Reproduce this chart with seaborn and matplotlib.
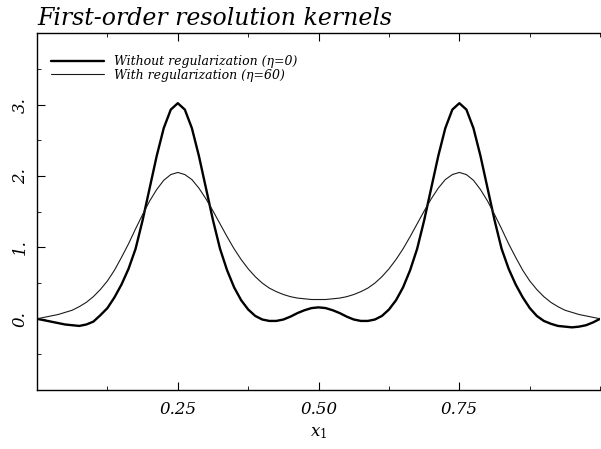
import numpy as np
import pandas as pd
import matplotlib
matplotlib.use("Agg")
import matplotlib.pyplot as plt
import seaborn as sns
from matplotlib.ticker import MultipleLocator, FixedLocator

# ---- data ----
x_vals = np.round(np.arange(81) * 0.0125, 4)

no_reg = [0.00, -0.02, -0.04, -0.06, -0.08, -0.09, -0.10, -0.08, -0.04, 0.05,
          0.15, 0.30, 0.48, 0.70, 0.98, 1.38, 1.83, 2.28, 2.67, 2.93,
          3.02, 2.93, 2.67, 2.28, 1.83, 1.38, 0.98, 0.68, 0.44, 0.26,
          0.13, 0.04, -0.01, -0.03, -0.03, -0.01, 0.03, 0.08, 0.12, 0.15,
          0.16,
          0.15, 0.12, 0.08, 0.03, -0.01, -0.03, -0.03, -0.01, 0.04, 0.13,
          0.26, 0.44, 0.68, 0.98, 1.38, 1.83, 2.28, 2.67, 2.93, 3.02,
          2.93, 2.67, 2.28, 1.83, 1.38, 0.98, 0.70, 0.48, 0.30, 0.15,
          0.04, -0.03, -0.07, -0.10, -0.11, -0.12, -0.11, -0.09, -0.05, 0.00]

with_reg = [0.00, 0.02, 0.04, 0.06, 0.09, 0.12, 0.17, 0.23, 0.31, 0.41,
            0.53, 0.68, 0.86, 1.05, 1.26, 1.46, 1.65, 1.81, 1.94, 2.02,
            2.05, 2.02, 1.95, 1.83, 1.68, 1.51, 1.33, 1.15, 0.98, 0.83,
            0.70, 0.59, 0.50, 0.43, 0.38, 0.34, 0.31, 0.29, 0.28, 0.27,
            0.27,
            0.27, 0.28, 0.29, 0.31, 0.34, 0.38, 0.43, 0.50, 0.59, 0.70,
            0.83, 0.98, 1.15, 1.33, 1.51, 1.68, 1.83, 1.95, 2.02, 2.05,
            2.02, 1.94, 1.81, 1.65, 1.46, 1.26, 1.05, 0.86, 0.68, 0.53,
            0.41, 0.31, 0.23, 0.17, 0.12, 0.09, 0.06, 0.04, 0.02, 0.00]

labels = ["Without regularization (\u03b7=0)", "With regularization (\u03b7=60)"]
x_ticks = [0.25, 0.50, 0.75]
x_tick_labels = ["0.25", "0.50", "0.75"]
y_ticks = [0, 1, 2, 3]
y_tick_labels = ["0.", "1.", "2.", "3."]
title = "First-order resolution kernels"

df = pd.DataFrame({
    "x": list(x_vals) * 2,
    "y": no_reg + with_reg,
    "series": [labels[0]] * len(x_vals) + [labels[1]] * len(x_vals),
})

sns.set_theme(style="white")
plt.rcParams["font.family"] = ["DejaVu Serif"]
plt.rcParams["mathtext.fontset"] = "dejavuserif"
plt.rcParams["text.color"] = "black"
plt.rcParams["axes.labelcolor"] = "black"
plt.rcParams["xtick.color"] = "black"
plt.rcParams["ytick.color"] = "black"

fig = plt.figure(figsize=(6.01, 4.49), dpi=100)
ax = fig.add_axes([0.0616, 0.131, 0.937, 0.795])

sns.lineplot(data=df[df.series == labels[0]], x="x", y="y", ax=ax, color="black",
             linewidth=1.7, label=labels[0], estimator=None)
sns.lineplot(data=df[df.series == labels[1]], x="x", y="y", ax=ax, color="#1a1a1a",
             linewidth=0.8, label=labels[1], estimator=None)

ax.set_xlim(0, 1)
ax.set_ylim(-1, 4)

ax.xaxis.set_major_locator(FixedLocator(x_ticks))
ax.set_xticklabels(x_tick_labels, fontsize=12, fontstyle="italic")
ax.xaxis.set_minor_locator(MultipleLocator(0.125))
ax.yaxis.set_major_locator(FixedLocator(y_ticks))
ax.set_yticklabels(y_tick_labels, fontsize=12, fontstyle="italic", rotation=90, va="center")
ax.yaxis.set_minor_locator(MultipleLocator(0.5))
ax.tick_params(which="both", direction="in", top=True, bottom=True, left=True, right=False)
ax.tick_params(which="major", length=6, width=0.8)
ax.tick_params(which="minor", length=3, width=0.6)
ax.tick_params(axis="x", pad=8)
ax.tick_params(axis="y", pad=6)

for side in ["left", "top", "bottom"]:
    ax.spines[side].set_color("black")
    ax.spines[side].set_linewidth(1.0)
ax.spines["right"].set_visible(False)

ax.set_xlabel("$x_1$", fontsize=12, labelpad=4)
ax.set_ylabel("")
fig.text(0.0616, 0.945, title, fontsize=17, fontstyle="italic", ha="left", va="baseline",
         color="black")

ax.legend(loc="upper left", bbox_to_anchor=(0.005, 0.97), frameon=False,
          handlelength=4.2, labelspacing=0.05, handletextpad=0.8,
          prop={"style": "italic", "size": 9})

fig.savefig("out.png", dpi=100, facecolor="white")
